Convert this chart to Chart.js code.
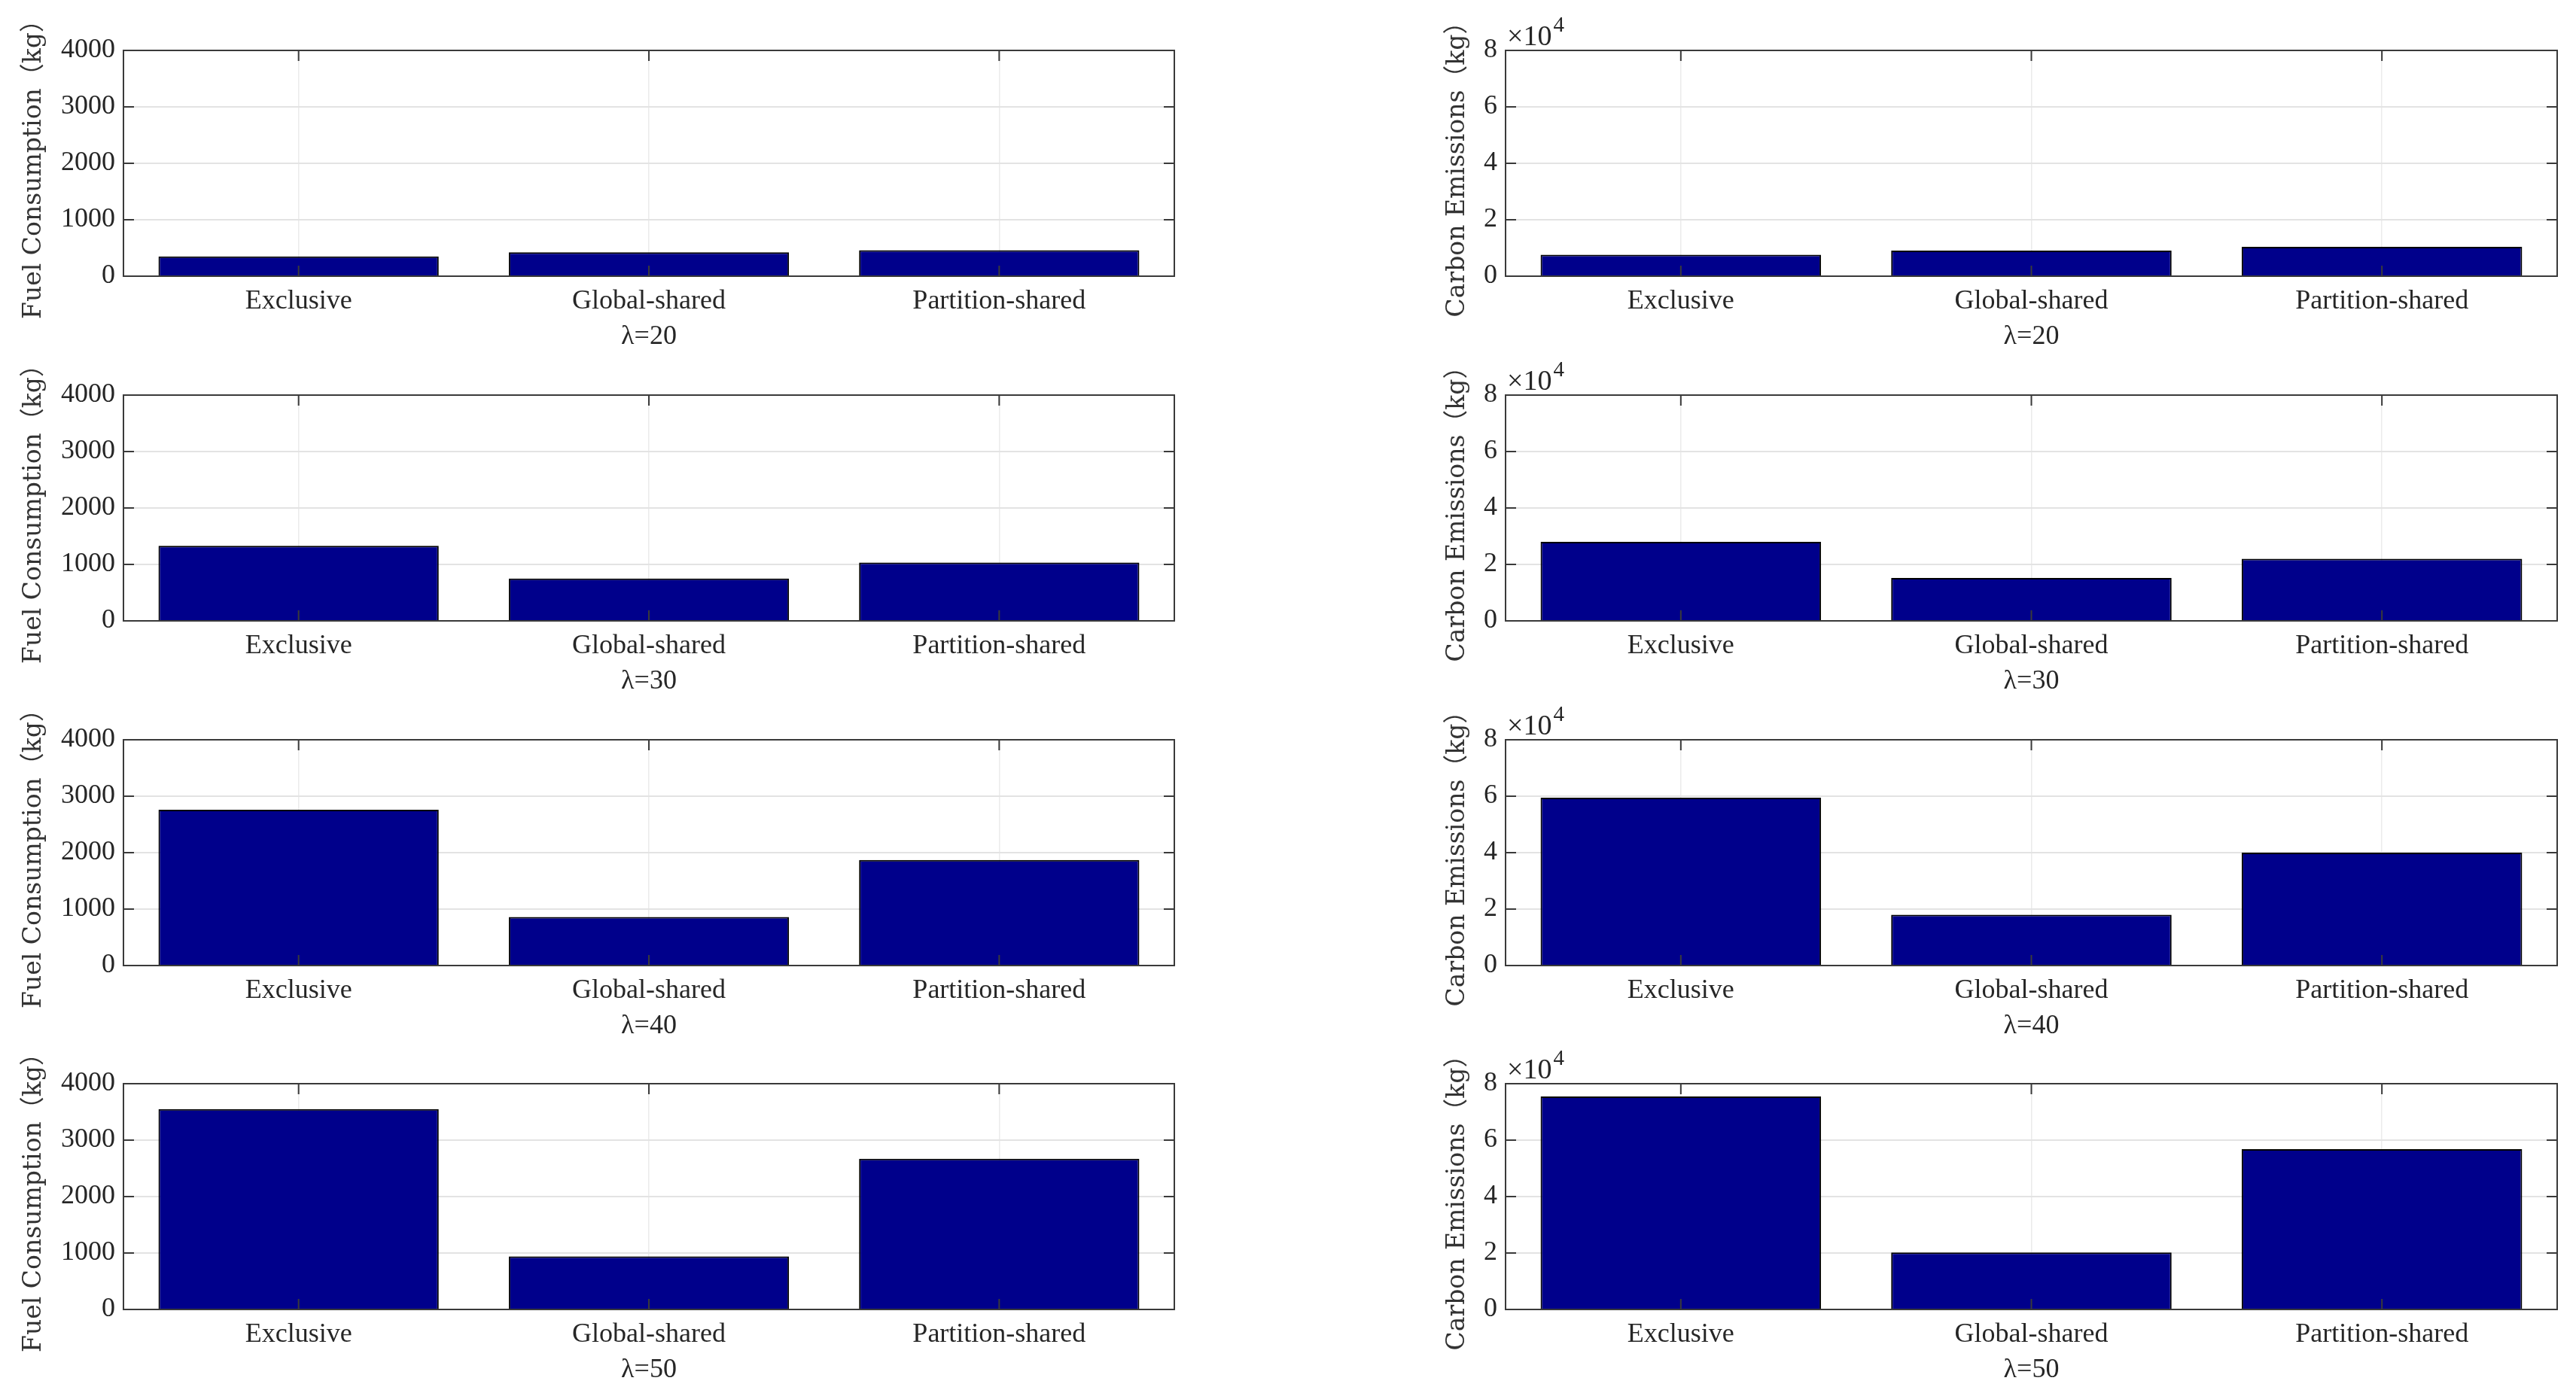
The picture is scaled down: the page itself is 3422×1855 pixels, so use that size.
<!DOCTYPE html>
<html>
<head>
<meta charset="utf-8">
<title>Fuel and carbon</title>
<script src="https://cdn.jsdelivr.net/npm/chart.js@4.4.1/dist/chart.umd.min.js"></script>
<style>
    html, body { margin: 0; padding: 0; background: #fff; overflow: hidden; }
    #page { position: relative; width: 3422px; height: 1855px; background: #fff; }
    #page canvas { position: absolute; }
</style>
</head>
<body>
<div id="page"></div>
<script>
// data
var categories = ['Exclusive', 'Global-shared', 'Partition-shared'];
var lambdaLabels = ['λ=20', 'λ=30', 'λ=40', 'λ=50'];
var fuelL20 = [350, 425, 460];
var fuelL30 = [1330, 750, 1035];
var fuelL40 = [2760, 860, 1870];
var fuelL50 = [3550, 940, 2670];
var carbonL20 = [7600, 9100, 10400];
var carbonL30 = [28000, 15200, 22000];
var carbonL40 = [59500, 18000, 40000];
var carbonL50 = [75500, 20200, 56800];
var fuelTicks = [0, 1000, 2000, 3000, 4000];
var carbonTicks = [0, 20000, 40000, 60000, 80000];

var fuelRows = [fuelL20, fuelL30, fuelL40, fuelL50];
var carbonRows = [carbonL20, carbonL30, carbonL40, carbonL50];

// layout of the 2x4 grid (px)
var rowTops = [67, 525, 983, 1440];
var plotH = 300;
var padTop = 60;
var xAxisH = 102;
var columns = [
    { canvasLeft: 0, plotLeft: 164, plotRight: 1560, titlePad: 26 },
    { canvasLeft: 1880, plotLeft: 2000, plotRight: 3397, titlePad: 37 }
];
var ink = '#262626';

Chart.defaults.font.family = "'Liberation Serif', 'Times New Roman', serif";
Chart.defaults.color = ink;

// MATLAB-like box with inward ticks, drawn over the bars
const boxPlugin = {
    id: 'boxTicks',
    afterDatasetsDraw(chart, args, opts) {
        const ctx = chart.ctx;
        const a = chart.chartArea;
        const xs = chart.scales.x, ys = chart.scales.y;
        const tl = 14;
        ctx.save();
        ctx.strokeStyle = '#3a3a3a';
        ctx.lineWidth = 2;
        ctx.beginPath();
        ys.ticks.forEach(function (t, i) {
            var py = ys.getPixelForTick(i);
            ctx.moveTo(a.left, py); ctx.lineTo(a.left + tl, py);
            ctx.moveTo(a.right, py); ctx.lineTo(a.right - tl, py);
        });
        xs.ticks.forEach(function (t, i) {
            var px = xs.getPixelForTick(i);
            ctx.moveTo(px, a.bottom); ctx.lineTo(px, a.bottom - tl);
            ctx.moveTo(px, a.top); ctx.lineTo(px, a.top + tl);
        });
        ctx.stroke();
        ctx.strokeRect(a.left, a.top, a.right - a.left, a.bottom - a.top);
        if (opts && opts.exponent) {
            ctx.fillStyle = ink;
            ctx.textBaseline = 'alphabetic';
            ctx.textAlign = 'left';
            ctx.font = "38px 'Liberation Serif'";
            ctx.fillText('×10', a.left + 2, a.top - 7);
            var w = ctx.measureText('×10').width;
            ctx.font = "29px 'Liberation Serif'";
            ctx.fillText(opts.exponent, a.left + 4 + w, a.top - 25);
        }
        ctx.restore();
    }
};

function makeSubplot(col, row, values, yTitle, ticksList, exponent) {
    var c = columns[col];
    var canvas = document.createElement('canvas');
    var w = c.plotRight + 4 - c.canvasLeft;
    var h = padTop + plotH + xAxisH;
    canvas.width = w;
    canvas.height = h;
    canvas.style.left = c.canvasLeft + 'px';
    canvas.style.top = (rowTops[row] - padTop) + 'px';
    canvas.style.width = w + 'px';
    canvas.style.height = h + 'px';
    document.getElementById('page').appendChild(canvas);

    var yMax = ticksList[ticksList.length - 1];
    var step = ticksList[1] - ticksList[0];
    var yAxisW = c.plotLeft - c.canvasLeft;

    return new Chart(canvas.getContext('2d'), {
        type: 'bar',
        data: {
            labels: categories,
            datasets: [{
                data: values,
                backgroundColor: '#00008b',
                borderColor: '#000000',
                borderWidth: 2,
                barPercentage: 0.8,
                categoryPercentage: 1.0
            }]
        },
        options: {
            responsive: false,
            animation: false,
            devicePixelRatio: 1,
            layout: { padding: { top: padTop, right: 4, left: 0, bottom: 0 } },
            plugins: {
                legend: { display: false },
                tooltip: { enabled: false },
                boxTicks: { exponent: exponent }
            },
            scales: {
                x: {
                    grid: { color: '#ebebeb', lineWidth: 1.5, offset: false, drawTicks: false },
                    border: { display: false },
                    ticks: { font: { size: 36 }, padding: 12, color: ink, maxRotation: 0 },
                    title: {
                        display: true,
                        text: lambdaLabels[row],
                        font: { size: 36 },
                        color: ink,
                        padding: { top: 0, bottom: 0 }
                    },
                    afterFit: function (scale) { scale.height = xAxisH; }
                },
                y: {
                    min: 0,
                    max: yMax,
                    grid: { color: '#e3e3e3', lineWidth: 2, drawTicks: false },
                    border: { display: false },
                    ticks: {
                        stepSize: step,
                        padding: 11,
                        font: { size: 36 },
                        color: ink,
                        callback: function (v) { return exponent ? v / 10000 : v; }
                    },
                    title: {
                        display: true,
                        text: yTitle,
                        font: { family: "'DejaVu Serif', 'Noto Sans CJK SC', serif", size: 33 },
                        color: '#333333',
                        padding: { top: c.titlePad, bottom: 0 }
                    },
                    afterFit: function (scale) { scale.width = yAxisW; }
                }
            }
        },
        plugins: [boxPlugin]
    });
}

for (var r = 0; r < 4; r++) {
    makeSubplot(0, r, fuelRows[r], 'Fuel Consumption（kg）', fuelTicks, null);
    makeSubplot(1, r, carbonRows[r], 'Carbon Emissions（kg）', carbonTicks, '4');
}
</script>
</body>
</html>
